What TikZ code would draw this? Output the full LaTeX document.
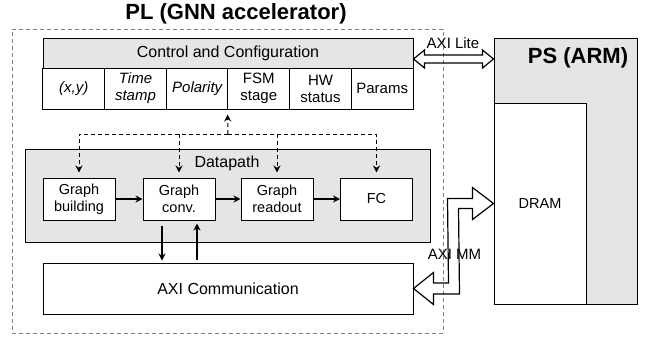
\documentclass[tikz,border=0pt]{standalone}
\usepackage{fontspec}
\setmainfont{Liberation Sans}
\usetikzlibrary{arrows.meta, calc}
\newcommand{\fsz}[2]{\fontsize{#1}{#2}\selectfont}

\begin{document}
\begin{tikzpicture}[
        >={Stealth[length=7pt, width=7pt]},
        every node/.style={font=\fsz{16}{18}, inner sep=0pt, align=center},
        blk/.style={draw, line width=1pt, fill=white},
        shaded/.style={blk, fill=black!10},
        field/.style={blk, minimum width=61.67pt, minimum height=41pt, font=\fsz{15}{17}},
        ifield/.style={field, font=\fsz{15}{17}\itshape},
        stage/.style={blk, minimum width=72pt, minimum height=42pt, font=\fsz{14.5}{17}},
        big/.style={font=\bfseries\fsz{22}{26}},
        ctl/.style={->, line width=1pt, dash pattern=on 4pt off 3pt, shorten >=5pt},
        flow/.style={->, line width=1.3pt},
        fat/.style={line width=1.2pt, line join=miter},
        yscale=-1,
        x=1pt,
        y=1pt
    ]
    \useasboundingbox (0,0) rectangle (650,341);

    \node[big] (pltitle) at (236,14) {PL (GNN accelerator)};
    \node[draw=black!50, line width=1pt, dash pattern=on 4pt off 3pt,
        minimum width=431pt, minimum height=304pt] (pl) at (227.5,181) {};

    % control block
    \node[shaded, minimum width=370pt, minimum height=30pt] (ctrl) at (228,53) {Control and Configuration};
    \node[ifield] (xy) at (73.8,88.5) {(x,y)};
    \node[ifield] (stamp) at (135.5,88.5) {Time\\stamp};
    \node[ifield] (pol) at (197.2,88.5) {Polarity};
    \node[field] (fsm) at (258.8,88.5) {FSM\\stage};
    \node[field] (hw) at (320.5,88.5) {HW\\status};
    \node[field] (params) at (382.2,88.5) {Params};

    % datapath
    \node[shaded, minimum width=405pt, minimum height=93pt] (dp) at (227.5,195.5) {};
    \node (dptext) at (227,163) {Datapath};
    \node[stage] (gb) at (79,199) {Graph\\building};
    \node[stage] (gc) at (179,199) {Graph\\conv.};
    \node[stage] (gr) at (277,199) {Graph\\readout};
    \node[stage] (fc) at (376.5,199) {FC};

    \node[blk, minimum width=370pt, minimum height=51pt] (axi) at (228,288.5) {AXI Communication};

    % processing system
    \node[shaded, minimum width=143pt, minimum height=266pt] (ps) at (565.5,171) {};
    \node[big] (pstext) at (578,58) {PS (ARM)};
    \node[blk, minimum width=92pt, minimum height=201pt, font=\fsz{14.5}{17}] (dram) at (540,203.5) {DRAM};

    % control lines
    \coordinate (hub) at (228,134);
    \draw[ctl] (hub) -- (fsm.south west);
    \draw[ctl] (hub) -| (gb.north);
    \draw[ctl] (hub) -| (gc.north);
    \draw[ctl] (hub) -| (gr.north);
    \draw[ctl] (hub) -| (fc.north);

    % data flow
    \draw[flow] (gb) -- (gc);
    \draw[flow] (gc) -- (gr);
    \draw[flow] (gr) -- (fc);
    \draw[flow, shorten <=5pt, shorten >=2pt] ([xshift=-17pt]gc.south) -- ([xshift=-17pt]gc.south |- axi.north);
    \draw[flow, shorten <=3pt, shorten >=3pt] ([xshift=18pt]gc.south |- axi.north) -- ([xshift=18pt]gc.south);

    % AXI Lite
    \coordinate (lite-l) at ($(ctrl.east)+(0,6)$);
    \coordinate (lite-r) at (ps.west |- lite-l);
    \draw[fat] (lite-l) -- ++(11,-9) -- ++(0,5) -- ($(lite-r)+(-11,-4)$) -- ++(0,-5) -- (lite-r)
        -- ++(-11,9) -- ++(0,-5) -- ($(lite-l)+(11,4)$) -- ++(0,5) -- cycle;
    \node[font=\fsz{15}{17}] (litetext) at (453,43) {AXI Lite};

    % AXI MM
    \coordinate (mm-a) at (axi.east);
    \coordinate (mm-d) at (dram.west);
    \draw[fat] (mm-a) -- ($(mm-a)+(20,-16)$) -- ($(mm-a)+(20,-5.5)$) -- ($(mm-a)+(35,-5.5)$)
        -- ($(mm-d)+(-46,-5)$) -- ($(mm-d)+(-21,-5)$) -- ($(mm-d)+(-21,-16)$) -- (mm-d)
        -- ($(mm-d)+(-21,16)$) -- ($(mm-d)+(-21,5)$) -- ($(mm-d)+(-35,5)$)
        -- ($(mm-a)+(46,5.5)$) -- ($(mm-a)+(20,5.5)$) -- ($(mm-a)+(20,16)$) -- cycle;
    \node[font=\fsz{15}{17}] (mmtext) at (454.5,254.5) {AXI MM};
\end{tikzpicture}
\end{document}
